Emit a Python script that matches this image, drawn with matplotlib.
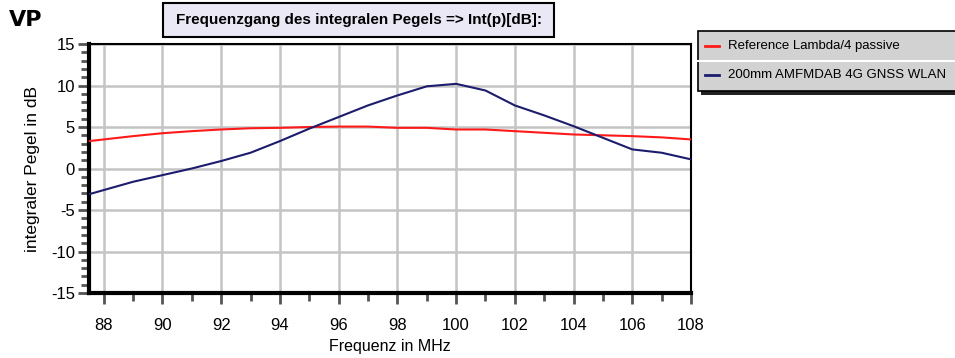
import numpy as np
import matplotlib.pyplot as plt
from matplotlib.patches import Rectangle
from matplotlib.ticker import MultipleLocator

plt.rcParams['font.family'] = ['Liberation Sans', 'DejaVu Sans']
plt.rcParams['axes.unicode_minus'] = False

# Frequenzgang, Werte pro MHz
freq = [87.5, 88, 89, 90, 91, 92, 93, 94, 95, 96, 97, 98, 99, 100, 101, 102, 103, 104, 105, 106, 107, 108]
ref_lambda4 = [3.3, 3.5, 3.9, 4.25, 4.5, 4.7, 4.85, 4.9, 5.0, 5.05, 5.05, 4.9, 4.9, 4.7, 4.7, 4.5, 4.3, 4.1, 4.0, 3.9, 3.75, 3.5]
amfmdab_200 = [-3.1, -2.6, -1.6, -0.8, 0.0, 0.9, 1.9, 3.3, 4.8, 6.2, 7.6, 8.8, 9.9, 10.2, 9.4, 7.6, 6.4, 5.1, 3.7, 2.3, 1.9, 1.1]

labels = ["Reference Lambda/4 passive", "200mm AMFMDAB 4G GNSS WLAN"]
title = "Frequenzgang des integralen Pegels => Int(p)[dB]:"

W, H = 955, 358
fig = plt.figure(figsize=(W / 100, H / 100), dpi=100)
ax = fig.add_axes([89 / W, 1 - 293 / H, (691 - 89) / W, (293 - 44) / H])

ax.plot(freq, ref_lambda4, color="#ff1a1a", lw=1.5, zorder=3)
ax.plot(freq, amfmdab_200, color="#1c1c6e", lw=1.5, zorder=3)

ax.set_xlim(87.5, 108)
ax.set_ylim(-15, 15)
ax.xaxis.set_major_locator(MultipleLocator(2))
ax.xaxis.set_minor_locator(MultipleLocator(1))
ax.yaxis.set_major_locator(MultipleLocator(5))
ax.yaxis.set_minor_locator(MultipleLocator(1))
ax.grid(True, which="major", color="#c4c4c4", lw=1.8, zorder=0)
ax.set_axisbelow(True)

ax.tick_params(which="major", direction="out", length=8, width=2, color="#555555",
               labelsize=12)
ax.tick_params(which="minor", direction="out", length=6, width=2, color="#555555")
ax.tick_params(axis="x", which="major", pad=10)
ax.tick_params(axis="y", which="major", pad=2)

for side in ["left", "bottom"]:
    ax.spines[side].set_linewidth(3)
for side in ["top", "right"]:
    ax.spines[side].set_linewidth(1.5)

ax.set_xlabel("Frequenz in MHz", fontsize=11.5, labelpad=4)
ax.set_ylabel("integraler Pegel in dB", fontsize=12.5, labelpad=8)

# VP Kennung
fig.text(9 / W, 1 - 20 / H, "VP", fontsize=16, fontweight="bold",
         family=["DejaVu Sans"], va="center", ha="left")

# Titelkasten
fig.patches.append(Rectangle((163 / W, 1 - 37 / H), (554 - 163) / W, 34 / H,
                             transform=fig.transFigure, facecolor="#ebe8f5",
                             edgecolor="black", lw=1.5))
fig.text((163 + 554) / 2 / W, 1 - 20 / H, title, fontsize=11, fontweight="bold",
         ha="center", va="center")

# Legendenkasten mit Schatten
fig.patches.append(Rectangle((701 / W, 1 - 95 / H), 260 / W, 61 / H,
                             transform=fig.transFigure, facecolor="#222222",
                             edgecolor="none"))
fig.patches.append(Rectangle((698 / W, 1 - 91 / H), 262 / W, 60 / H,
                             transform=fig.transFigure, facecolor="#d2d2d2",
                             edgecolor="black", lw=1.2))
fig.lines.append(plt.Line2D([698 / W, 955 / W], [1 - 61 / H, 1 - 61 / H],
                            transform=fig.transFigure, color="white", lw=1.5))
for i, (lab, col) in enumerate(zip(labels, ["#ff1a1a", "#1c1c6e"])):
    yy = 1 - (46 + 29 * i) / H
    fig.lines.append(plt.Line2D([705 / W, 719 / W], [yy, yy], transform=fig.transFigure,
                                color=col, lw=2))
    fig.text(728 / W, yy, lab, fontsize=9.5, ha="left", va="center")

fig.savefig("out.png", dpi=100)
